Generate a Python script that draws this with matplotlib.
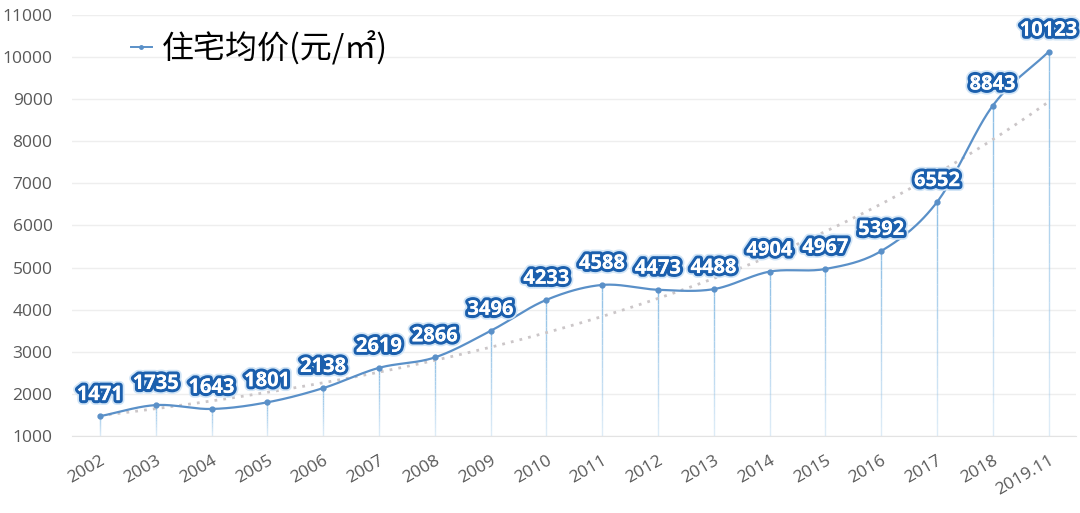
import numpy as np
import matplotlib
matplotlib.use("Agg")
import matplotlib.pyplot as plt
import matplotlib.patheffects as pe

plt.rcParams['font.family'] = ['Open Sans', 'Noto Sans CJK SC', 'DejaVu Sans']

years = ['2002', '2003', '2004', '2005', '2006', '2007', '2008', '2009', '2010',
         '2011', '2012', '2013', '2014', '2015', '2016', '2017', '2018', '2019.11']
prices = [1471, 1735, 1643, 1801, 2138, 2619, 2866, 3496, 4233,
          4588, 4473, 4488, 4904, 4967, 5392, 6552, 8843, 10123]
series_name = '住宅均价(元/㎡)'

x = np.arange(len(years))
y = np.array(prices, dtype=float)

def catmull_rom(xp, yp, n=30):
    px = np.concatenate([[2*xp[0]-xp[1]], xp, [2*xp[-1]-xp[-2]]])
    py = np.concatenate([[2*yp[0]-yp[1]], yp, [2*yp[-1]-yp[-2]]])
    xs, ys = [], []
    for i in range(1, len(px)-2):
        t = np.linspace(0, 1, n, endpoint=False)
        for arr, out in ((px, xs), (py, ys)):
            p0, p1, p2, p3 = arr[i-1], arr[i], arr[i+1], arr[i+2]
            out.append(0.5*((2*p1) + (-p0+p2)*t + (2*p0-5*p1+4*p2-p3)*t**2 + (-p0+3*p1-3*p2+p3)*t**3))
    xs.append([xp[-1]]); ys.append([yp[-1]])
    return np.concatenate(xs), np.concatenate(ys)

fig = plt.figure(figsize=(10.8, 5.13), dpi=100)
ax = fig.add_axes([0.0667, 0.150, 0.930, 0.821])

# drop lines, fading toward the bottom
nseg = 20
for xi, yi in zip(x, y):
    levels = np.linspace(1000, yi, nseg + 1)
    for k in range(nseg):
        a = 0.25 + 0.75 * (k + 1) / nseg
        ax.plot([xi, xi], [levels[k], levels[k+1]], color='#8fc0e6', lw=1.0,
                alpha=a, solid_capstyle='butt', zorder=1)

# exponential trend line
coef = np.polyfit(x, np.log(y), 1)
xt = np.linspace(0, len(x)-1, 200)
ax.plot(xt, np.exp(np.polyval(coef, xt)), color='#cbc6c8', lw=2, ls=(0, (1, 2.2)), zorder=2)

sx, sy = catmull_rom(x.astype(float), y)
ax.plot(sx, sy, color='#5a90c8', lw=1.6, zorder=3)
ax.plot(x, y, ls='none', marker='o', ms=3.5, color='#5a90c8', zorder=4)

for xi, yi in zip(x, y):
    ax.annotate(f'{int(yi)}', (xi, yi), xytext=(0, 8), textcoords='offset points',
                ha='center', va='bottom', fontsize=14.5, fontweight='bold', color='white',
                zorder=6,
                path_effects=[pe.withStroke(linewidth=7, foreground='#d2e5f6'),
                              pe.withStroke(linewidth=4.5, foreground='#1b5fad'),
                              pe.Normal()])

# legend
ax.plot([], [], color='#5a90c8', lw=1.4, marker='o', ms=2.5, label=series_name)
leg = ax.legend(loc='upper left', bbox_to_anchor=(0.03, 1.03), frameon=False,
                prop={'family': ['Noto Sans CJK SC'], 'size': 23},
                handlelength=0.65, handletextpad=0.33)

ax.set_xlim(-0.5, len(x)-0.5)
ax.set_ylim(1000, 11000)
ax.set_yticks(np.arange(1000, 11001, 1000))
ax.set_xticks(x)
ax.set_xticklabels(years, rotation=30, ha='right', rotation_mode='anchor')
ax.tick_params(axis='both', length=0, labelsize=12.5, labelcolor='#595959')
ax.tick_params(axis='x', pad=12)
ax.tick_params(axis='y', pad=14)
ax.grid(axis='y', color='#eeeeee', lw=1)
ax.set_axisbelow(True)
for s in ['top', 'right', 'left']:
    ax.spines[s].set_visible(False)
ax.spines['bottom'].set_color('#e3e3e3')

fig.savefig('out.png', dpi=100, facecolor='white')
